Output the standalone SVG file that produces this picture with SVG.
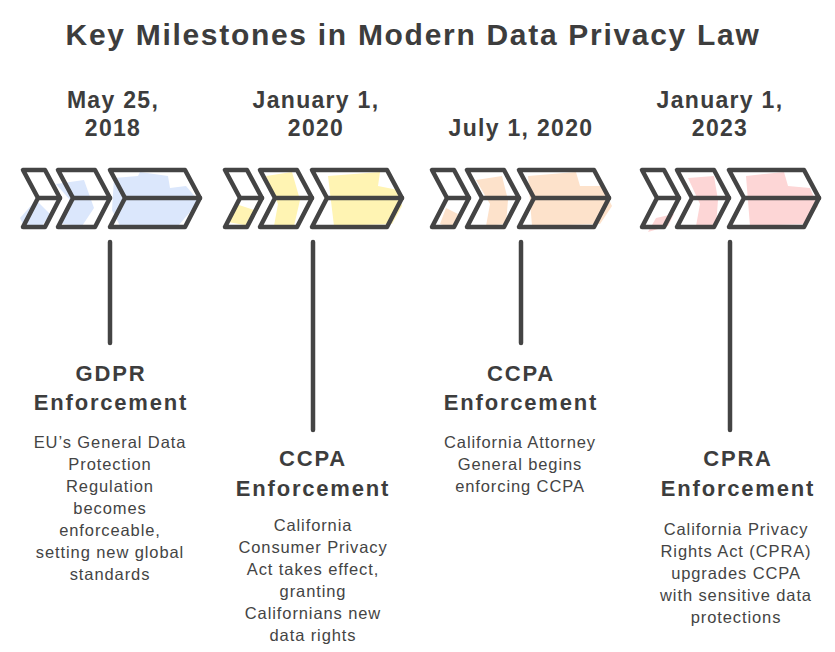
<svg xmlns="http://www.w3.org/2000/svg" width="835" height="652" viewBox="0 0 835 652">
<defs>
<style>
.title{font-family:"Liberation Sans",Arial,sans-serif;font-weight:bold;font-size:30px;fill:#3d3d3d;text-anchor:middle;letter-spacing:1.7px}
.date{font-family:"Liberation Sans",Arial,sans-serif;font-weight:bold;font-size:23px;fill:#3d3d3d;text-anchor:middle;letter-spacing:1.3px}
.head{font-family:"Liberation Sans",Arial,sans-serif;font-weight:bold;font-size:22px;fill:#3d3d3d;text-anchor:middle;letter-spacing:1.8px}
.desc{font-family:"Liberation Sans",Arial,sans-serif;font-size:16.5px;fill:#444;text-anchor:middle;letter-spacing:0.9px}
.chev{fill:none;stroke:#444;stroke-width:4.5;stroke-linejoin:round;stroke-linecap:round}
.stem{stroke:#444;stroke-width:4.5;stroke-linecap:round}
</style>
<g id="chevrons">
<polygon class="chev" points="0,0 22,0 37,28 22,57 0,57 15,28"/>
<line class="chev" x1="15" y1="28" x2="37" y2="28"/>
<polygon class="chev" points="35,0 72,0 87,28 72,57 35,57 50,28"/>
<line class="chev" x1="50" y1="28" x2="87" y2="28"/>
<polygon class="chev" points="87,0 162,0 177,28 162,57 87,57 102,28"/>
<line class="chev" x1="102" y1="28" x2="177" y2="28"/>
</g>
</defs>
<rect width="835" height="652" fill="#ffffff"/>
<text class="title" x="413" y="45">Key Milestones in Modern Data Privacy Law</text>

<g id="milestone-2018">
<text class="date" x="113" y="108">May 25,</text>
<text class="date" x="113" y="136">2018</text>
<g fill="#dbe7fc">
<polygon points="20,218 36,200 50,214 42,226 24,226"/>
<polygon points="56,184 84,180 94,208 82,226 62,224 70,200"/>
<polygon points="114,178 138,176 140,172 168,176 170,188 186,186 198,200 190,212 178,226 120,226 112,210"/>
</g>
<use href="#chevrons" x="23" y="170"/>
</g>

<g id="milestone-2020a">
<text class="date" x="316" y="108">January 1,</text>
<text class="date" x="316" y="136">2020</text>
<g fill="#fff4b3">
<polygon points="228,222 236,204 254,210 250,226"/>
<polygon points="266,176 292,172 300,200 294,226 274,226 278,204"/>
<polygon points="328,176 380,172 378,186 398,190 402,206 392,224 334,226"/>
</g>
<use href="#chevrons" x="225" y="170"/>
</g>

<g id="milestone-2020b">
<text class="date" x="521" y="136">July 1, 2020</text>
<g fill="#fde2cb">
<polygon points="440,224 446,208 458,214 452,228"/>
<polygon points="476,180 502,176 508,200 506,224 486,226 490,204"/>
<polygon points="528,176 576,172 580,186 602,186 612,206 600,224 532,226"/>
</g>
<use href="#chevrons" x="432" y="170"/>
</g>

<g id="milestone-2023">
<text class="date" x="720" y="108">January 1,</text>
<text class="date" x="720" y="136">2023</text>
<g fill="#fdd6d6">
<polygon points="648,232 656,218 674,214 668,226"/>
<polygon points="688,178 714,176 718,200 716,226 696,226 700,204"/>
<polygon points="746,176 784,172 788,186 810,188 818,206 806,224 750,226"/>
</g>
<use href="#chevrons" x="642" y="170"/>
</g>

<g id="connectors">
<line class="stem" x1="110" y1="242" x2="110" y2="343"/>
<line class="stem" x1="313" y1="242" x2="313" y2="430"/>
<line class="stem" x1="521" y1="242" x2="521" y2="343"/>
<line class="stem" x1="730" y1="242" x2="730" y2="430"/>
</g>

<g id="gdpr">
<text class="head" x="111" y="381">GDPR</text>
<text class="head" x="111" y="410">Enforcement</text>
<text class="desc" x="110" y="448">EU’s General Data</text>
<text class="desc" x="110" y="470">Protection</text>
<text class="desc" x="110" y="492">Regulation</text>
<text class="desc" x="110" y="514">becomes</text>
<text class="desc" x="110" y="536">enforceable,</text>
<text class="desc" x="110" y="558">setting new global</text>
<text class="desc" x="110" y="580">standards</text>
</g>

<g id="ccpa-2020">
<text class="head" x="313" y="466">CCPA</text>
<text class="head" x="313" y="496">Enforcement</text>
<text class="desc" x="313" y="531">California</text>
<text class="desc" x="313" y="553">Consumer Privacy</text>
<text class="desc" x="313" y="575">Act takes effect,</text>
<text class="desc" x="313" y="597">granting</text>
<text class="desc" x="313" y="619">Californians new</text>
<text class="desc" x="313" y="641">data rights</text>
</g>

<g id="ccpa-ag">
<text class="head" x="521" y="381">CCPA</text>
<text class="head" x="521" y="410">Enforcement</text>
<text class="desc" x="520" y="448">California Attorney</text>
<text class="desc" x="520" y="470">General begins</text>
<text class="desc" x="520" y="492">enforcing CCPA</text>
</g>

<g id="cpra">
<text class="head" x="738" y="466">CPRA</text>
<text class="head" x="738" y="496">Enforcement</text>
<text class="desc" x="736" y="535">California Privacy</text>
<text class="desc" x="736" y="557">Rights Act (CPRA)</text>
<text class="desc" x="736" y="579">upgrades CCPA</text>
<text class="desc" x="736" y="601">with sensitive data</text>
<text class="desc" x="736" y="623">protections</text>
</g>
</svg>
